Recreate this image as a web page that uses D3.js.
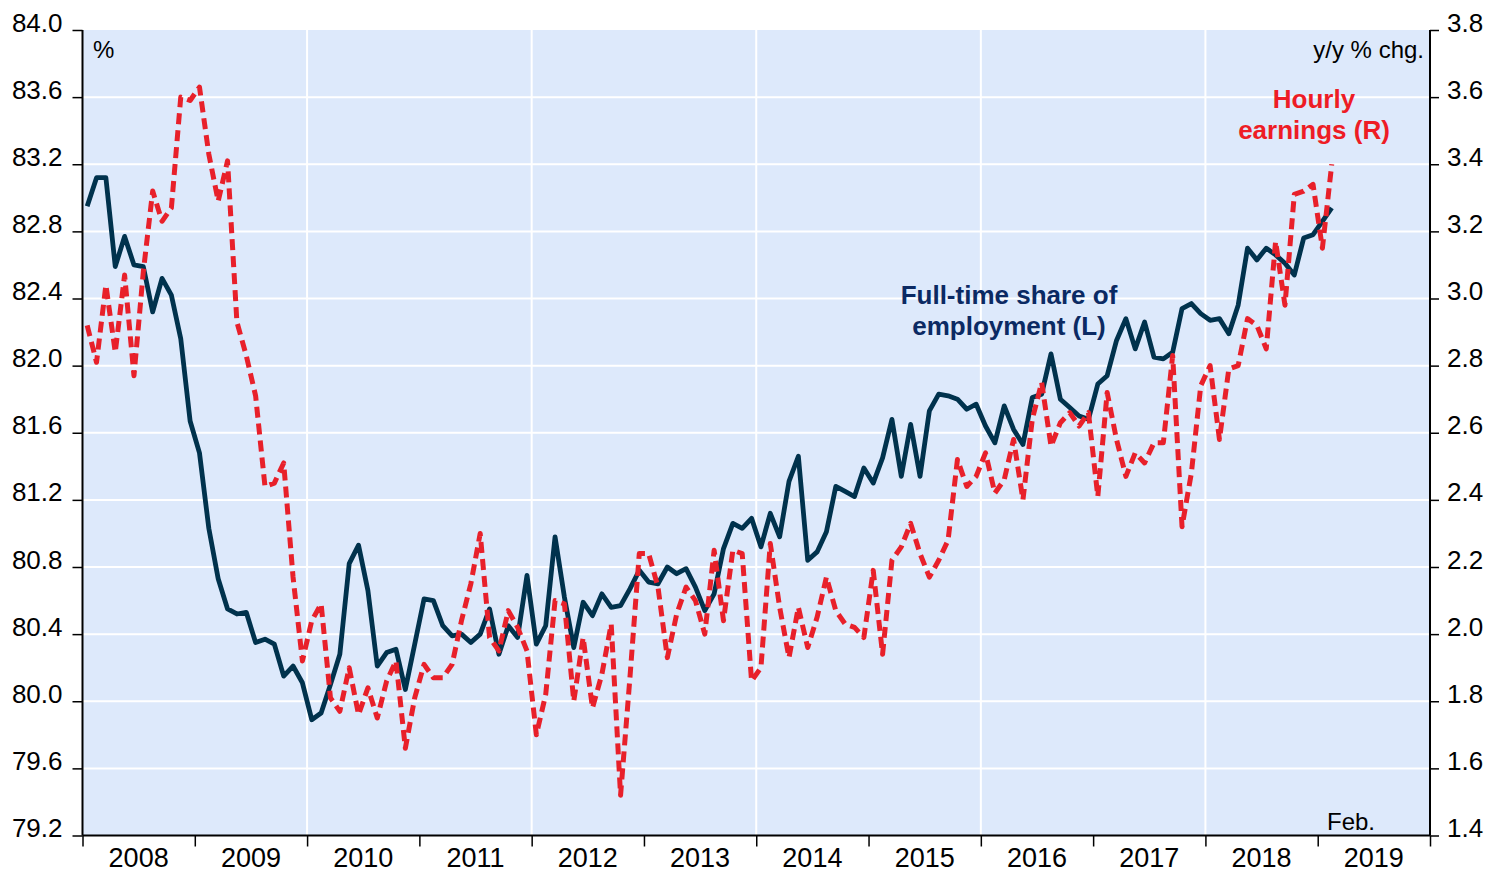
<!DOCTYPE html>
<html>
<head>
<meta charset="utf-8">
<script src="https://cdn.jsdelivr.net/npm/d3@7"></script>
<style>
  html, body { margin: 0; padding: 0; background: #ffffff; }
  svg { display: block; font-family: "Liberation Sans", Arial, sans-serif; }
</style>
</head>
<body>
<svg id="chart" width="1500" height="874"></svg>
<script>
// ---- Data (monthly, Jan 2008 – Feb 2019) ----
const startYear = 2008;
const yearLabels = ["2008","2009","2010","2011","2012","2013","2014","2015","2016","2017","2018","2019"];
const leftTicks = [79.2, 79.6, 80.0, 80.4, 80.8, 81.2, 81.6, 82.0, 82.4, 82.8, 83.2, 83.6, 84.0];
const rightTicks = [1.4, 1.6, 1.8, 2.0, 2.2, 2.4, 2.6, 2.8, 3.0, 3.2, 3.4, 3.6, 3.8];

// Full-time share of employment (L), %
const fullTimeShare = [
  82.95, 83.12, 83.12, 82.59, 82.77, 82.60, 82.59, 82.32, 82.52, 82.42, 82.16, 81.67,
  81.48, 81.03, 80.73, 80.55, 80.52, 80.53, 80.35, 80.37, 80.34, 80.15, 80.21, 80.11,
  79.89, 79.93, 80.10, 80.28, 80.82, 80.93, 80.66, 80.21, 80.29, 80.31, 80.07, 80.34,
  80.61, 80.60, 80.45, 80.39, 80.40, 80.35, 80.40, 80.55, 80.28, 80.45, 80.38, 80.75,
  80.34, 80.45, 80.98, 80.62, 80.32, 80.59, 80.51, 80.64, 80.56, 80.57, 80.67, 80.78,
  80.71, 80.70, 80.80, 80.76, 80.79, 80.68, 80.54, 80.64, 80.91, 81.06, 81.03, 81.09,
  80.92, 81.12, 80.98, 81.31, 81.46, 80.84, 80.89, 81.01, 81.28, 81.25, 81.22, 81.39,
  81.30, 81.45, 81.68, 81.34, 81.65, 81.34, 81.73, 81.83, 81.82, 81.80, 81.74, 81.77,
  81.64, 81.54, 81.76, 81.62, 81.53, 81.81, 81.83, 82.07, 81.80, 81.75, 81.70, 81.68,
  81.89, 81.94, 82.15, 82.28, 82.10, 82.26, 82.05, 82.04, 82.08, 82.34, 82.37, 82.31,
  82.27, 82.28, 82.19, 82.36, 82.70, 82.63, 82.70, 82.66, 82.61, 82.54, 82.76, 82.78,
  82.86, 82.94
];

// Hourly earnings (R), y/y % chg.
const hourlyEarnings = [
  2.92, 2.81, 3.04, 2.84, 3.07, 2.77, 3.08, 3.32, 3.23, 3.27, 3.60, 3.59,
  3.63, 3.43, 3.29, 3.41, 2.93, 2.83, 2.71, 2.44, 2.45, 2.51, 2.17, 1.92,
  2.04, 2.09, 1.81, 1.77, 1.90, 1.76, 1.84, 1.75, 1.86, 1.92, 1.66, 1.81,
  1.91, 1.87, 1.87, 1.91, 2.04, 2.15, 2.30, 1.99, 1.95, 2.07, 2.02, 1.95,
  1.70, 1.82, 2.10, 2.09, 1.80, 1.99, 1.78, 1.88, 2.03, 1.52, 1.87, 2.24,
  2.24, 2.14, 1.93, 2.06, 2.14, 2.10, 2.00, 2.25, 2.04, 2.25, 2.24, 1.86,
  1.90, 2.27, 2.08, 1.93, 2.08, 1.96, 2.05, 2.17, 2.07, 2.03, 2.02, 1.99,
  2.19, 1.94, 2.22, 2.26, 2.33, 2.24, 2.17, 2.22, 2.28, 2.52, 2.44, 2.47,
  2.54, 2.42, 2.46, 2.58, 2.40, 2.64, 2.75, 2.56, 2.63, 2.66, 2.62, 2.66,
  2.41, 2.72, 2.58, 2.47, 2.54, 2.51, 2.57, 2.57, 2.83, 2.32, 2.48, 2.74,
  2.80, 2.58, 2.79, 2.80, 2.94, 2.92, 2.85, 3.17, 2.98, 3.31, 3.32, 3.34,
  3.15, 3.40
];

// ---- Layout ----
const svg = d3.select("#chart");
const L = 82.5, R = 1430, T = 30, B = 835.5;

const x = d3.scaleLinear().domain([startYear, startYear + 12]).range([L, R]);
const yL = d3.scaleLinear().domain([79.2, 84.0]).range([B, T]);
const yR = d3.scaleLinear().domain([1.4, 3.8]).range([B, T]);
const monthX = i => x(startYear + (i + 0.5) / 12);

// plot background
svg.append("rect").attr("x", L).attr("y", T).attr("width", R - L).attr("height", B - T)
  .attr("fill", "#dde9fb");

// horizontal gridlines
svg.append("g").selectAll("line").data(leftTicks.filter(v => v > 79.2 && v < 84.0)).join("line")
  .attr("x1", L).attr("x2", R).attr("y1", d => yL(d)).attr("y2", d => yL(d))
  .attr("stroke", "#ffffff").attr("stroke-width", 2);

// vertical gridlines every two years
const gridYears = [2010, 2012, 2014, 2016, 2018];
svg.append("g").selectAll("line").data(gridYears).join("line")
  .attr("x1", d => x(d)).attr("x2", d => x(d)).attr("y1", T).attr("y2", B)
  .attr("stroke", "#ffffff").attr("stroke-width", 2);

// series lines
const lineL = d3.line().x((d, i) => monthX(i)).y(d => yL(d));
const lineR = d3.line().x((d, i) => monthX(i)).y(d => yR(d));

svg.append("path").datum(fullTimeShare).attr("d", lineL)
  .attr("fill", "none").attr("stroke", "#00324d").attr("stroke-width", 4.8)
  .attr("stroke-linejoin", "round");

svg.append("path").datum(hourlyEarnings).attr("d", lineR)
  .attr("fill", "none").attr("stroke", "#e8202a").attr("stroke-width", 5)
  .attr("stroke-dasharray", "11,6").attr("stroke-linejoin", "round");

// axes
const fmt = d3.format(".1f");
const leftAxis = d3.axisLeft(yL).tickValues(leftTicks).tickFormat(fmt).tickSize(10).tickPadding(10);
const rightAxis = d3.axisRight(yR).tickValues(rightTicks).tickFormat(fmt).tickSize(9).tickPadding(8);
const bottomAxis = d3.axisBottom(x).tickValues(d3.range(startYear, startYear + 13)).tickFormat("").tickSize(11);

const gl = svg.append("g").attr("transform", `translate(${L},0)`).call(leftAxis);
const gr = svg.append("g").attr("transform", `translate(${R},0)`).call(rightAxis);
const gb = svg.append("g").attr("transform", `translate(0,${B})`).call(bottomAxis);

[gl, gr, gb].forEach(g => {
  g.select(".domain").attr("stroke", "#000").attr("stroke-width", 2);
  g.selectAll(".tick line").attr("stroke", "#000").attr("stroke-width", 1.5);
  g.selectAll("text").attr("fill", "#000").attr("font-size", 26)
    .attr("font-family", '"Liberation Sans", Arial, sans-serif');
});
gl.select(".domain").attr("d", `M0,${T}V${B}`);
gr.select(".domain").attr("d", `M0,${T}V${B}`);
gb.select(".domain").attr("d", `M${L},0H${R}`);
gl.selectAll(".tick text").attr("dy", "0.0em").attr("y", 1);
gr.selectAll(".tick text").attr("dy", "0.0em").attr("y", 1);

// year labels centred in each year
svg.append("g").selectAll("text").data(yearLabels).join("text")
  .attr("x", d => x(+d + 0.5)).attr("y", 867)
  .attr("text-anchor", "middle").attr("font-size", 27).attr("fill", "#000")
  .text(d => d);

// annotations
svg.append("text").attr("x", 93).attr("y", 58).attr("font-size", 24).attr("fill", "#000").text("%");
svg.append("text").attr("x", 1424).attr("y", 58).attr("font-size", 24).attr("fill", "#000")
  .attr("text-anchor", "end").text("y/y % chg.");
svg.append("text").attr("x", 1375).attr("y", 830).attr("font-size", 24).attr("fill", "#000")
  .attr("text-anchor", "end").text("Feb.");

const redLbl = svg.append("text").attr("font-size", 26).attr("font-weight", "bold")
  .attr("fill", "#ee1c25").attr("text-anchor", "middle");
redLbl.append("tspan").attr("x", 1314).attr("y", 108).text("Hourly");
redLbl.append("tspan").attr("x", 1314).attr("y", 139).text("earnings (R)");

const blueLbl = svg.append("text").attr("font-size", 26).attr("font-weight", "bold")
  .attr("fill", "#0b2a63").attr("text-anchor", "middle");
blueLbl.append("tspan").attr("x", 1009).attr("y", 304).text("Full-time share of");
blueLbl.append("tspan").attr("x", 1009).attr("y", 335).text("employment (L)");
</script>
</body>
</html>
